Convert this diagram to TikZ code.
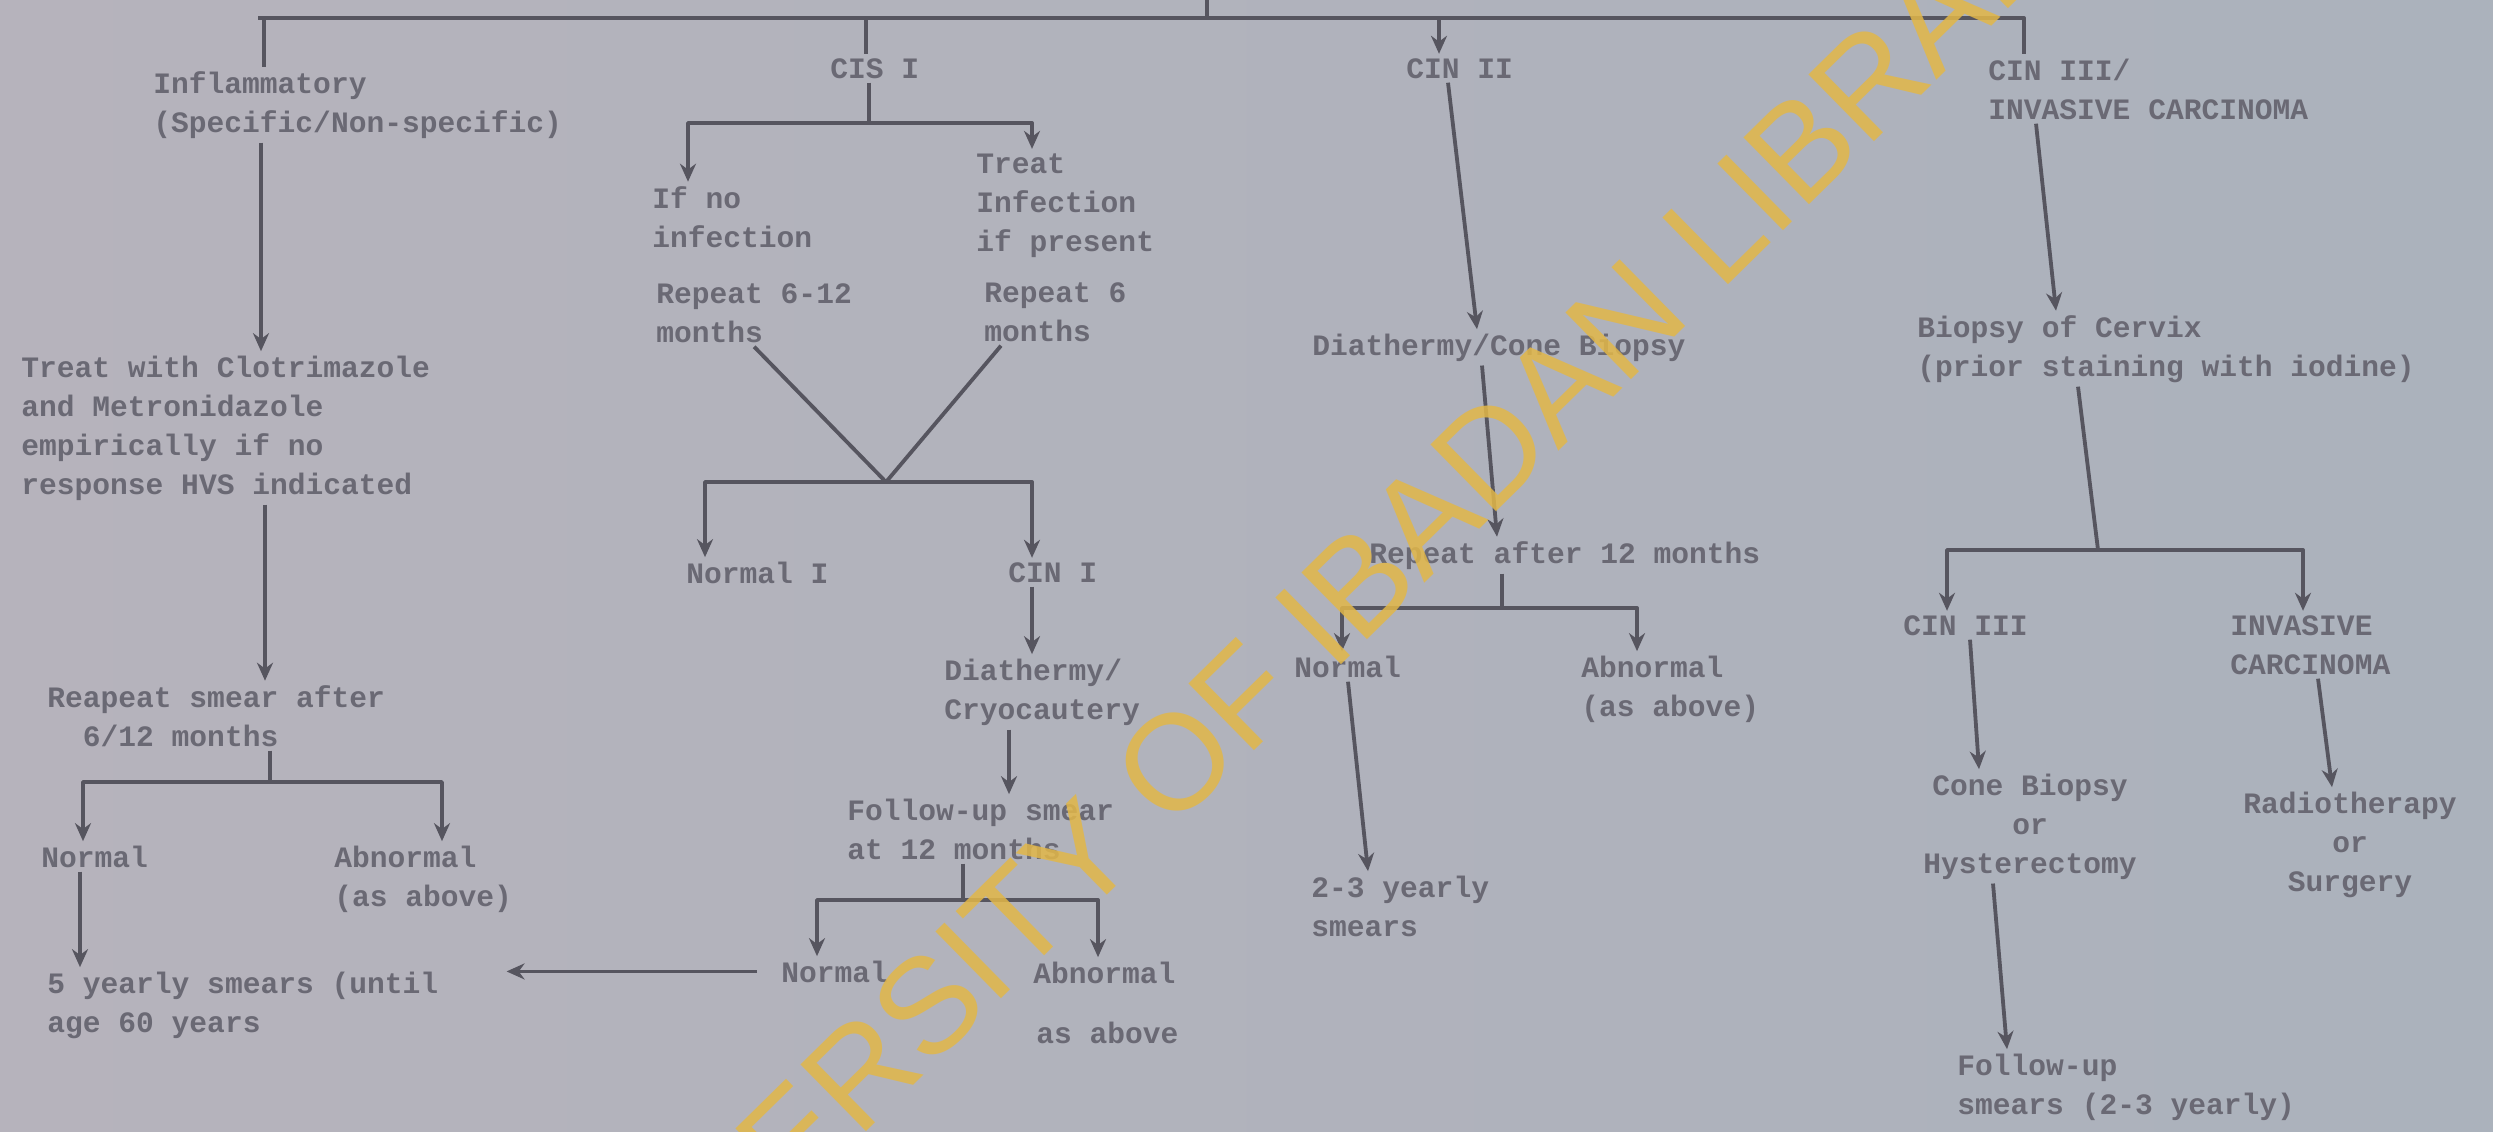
\documentclass[tikz,border=0pt]{standalone}
\usepackage{fontspec}
\setmonofont{Liberation Mono}
\newfontfamily\stampfont{Liberation Sans}
\definecolor{paperleft}{RGB}{182,179,188}
\definecolor{paperright}{RGB}{171,178,188}
\definecolor{typeink}{RGB}{106,105,116}
\definecolor{penink}{RGB}{86,85,95}
\definecolor{stampyellow}{RGB}{226,183,72}
\usepackage{tikz}
\usetikzlibrary{arrows.meta}

\begin{document}
\begin{tikzpicture}[x=0.5pt, y=-0.5pt, line join=round,
  txt/.style={anchor=base west, inner sep=2pt, align=left, text=typeink,
    font=\ttfamily\bfseries\fontsize{14.8}{19.5}\selectfont},
  ctxt/.style={txt, anchor=base, align=center},
  bar/.style={draw=penink, line width=1.9pt},
  arr/.style={bar, -{Stealth[length=9pt, width=8pt]}}]
\useasboundingbox (0,0) rectangle (2493,1131);
\clip (0,0) rectangle (2493,1131);
\fill[left color=paperleft, right color=paperright] (0,0) rectangle (2493,1131);

% first row (base = last line)
\node[txt] (infl) at (149,132) {Inflammatory\\(Specific/Non-specific)};
\node[txt] (cisone) at (826,78) {CIS I};
\node[txt] (cintwo) at (1402,78) {CIN II};
\node[txt] (cinthreetop) at (1984,119) {CIN III/\\INVASIVE CARCINOMA};

% inflammatory column
\node[txt] (clotri) at (17,494) {Treat with Clotrimazole\\and Metronidazole\\empirically if no\\response HVS indicated};
\node[txt] (smearone) at (43,746) {Reapeat smear after\\~~6/12 months};
\node[txt] (normone) at (37,867) {Normal};
\node[txt] (abnone) at (330,906) {Abnormal\\(as above)};
\node[txt] (fiveyr) at (43,1032) {5 yearly smears (until\\age 60 years};

% CIS I column
\node[txt] (ifno) at (648,247) {If no\\infection};
\node[txt] (repone) at (652,342) {Repeat 6-12\\months};
\node[txt] (treatinf) at (972,251) {Treat\\Infection\\if present};
\node[txt] (reptwo) at (980,341) {Repeat 6\\months};
\node[txt] (normI) at (682,583) {Normal I};
\node[txt] (cinone) at (1004,582) {CIN I};
\node[txt] (diacryo) at (940,719) {Diathermy/\\Cryocautery};
\node[txt] (followone) at (843,859) {Follow-up smear\\at 12 months};
\node[txt] (normthree) at (777,982) {Normal};
\node[txt] (abnthree) at (1029,983) {Abnormal};
\node[txt] (asabove) at (1032,1043) {as above};

% CIN II column
\node[txt] (diacone) at (1308,355) {Diathermy/Cone Biopsy};
\node[txt] (reptwelve) at (1365,563) {Repeat after 12 months};
\node[txt] (normtwo) at (1290,677) {Normal};
\node[txt] (abntwo) at (1577,716) {Abnormal\\(as above)};
\node[txt] (twothree) at (1307,936) {2-3 yearly\\smears};

% CIN III column
\node[txt] (biopsy) at (1913,376) {Biopsy of Cervix\\(prior staining with iodine)};
\node[txt] (cinthree) at (1899,635) {CIN III};
\node[txt] (invasive) at (2226,674) {INVASIVE\\CARCINOMA};
\node[ctxt] (cone) at (2030,873) {Cone Biopsy\\or\\Hysterectomy};
\node[ctxt] (radio) at (2350,891) {Radiotherapy\\or\\Surgery};
\node[txt] (followtwo) at (1953,1114) {Follow-up\\smears (2-3 yearly)};

% top bar
\coordinate (barL) at (258,18);
\coordinate (barR) at (2024,18);
\coordinate (trunk) at (1207,0);
\draw[bar] (barL) -- (barR) -- (cinthreetop.north -| barR);
\draw[bar] (trunk) -- (trunk |- barL);
\draw[bar] (264,18) -- (infl.north -| 264,0);
\draw[bar] (866,18) -- (cisone.north -| 866,0);
\draw[arr] (1439,18) -- (cintwo.north -| 1439,0);

% inflammatory
\draw[arr] (infl.south -| 261,0) -- (clotri.north -| 261,0);
\draw[arr] (clotri.south -| 265,0) -- (smearone.north -| 265,0);
\coordinate (lj) at (270,782);
\draw[bar] (smearone.south -| lj) -- (lj);
\draw[arr] (lj) -| (normone.north -| 83,0);
\draw[arr] (lj) -| (abnone.north -| 442,0);
\draw[arr] (normone.south -| 80,0) -- (fiveyr.north -| 80,0);

% CIS I
\coordinate (cj) at (869,123);
\draw[bar] (cisone.south -| cj) -- (cj);
\draw[arr] (cj) -| (ifno.north -| 688,0);
\draw[arr] (cj) -| (treatinf.north -| 1032,0);
\coordinate (vj) at (886,482);
\draw[bar] (repone.south) -- (vj) -- (reptwo.south -| 1001,0);
\draw[arr] (vj) -| (normI.north -| 705,0);
\draw[arr] (vj) -| (cinone.north -| 1032,0);
\draw[arr] (cinone.south -| 1032,0) -- (diacryo.north -| 1032,0);
\draw[arr] (diacryo.south -| 1009,0) -- (followone.north -| 1009,0);
\coordinate (fj) at (963,900);
\draw[bar] (followone.south -| fj) -- (fj);
\draw[arr] (fj) -| (normthree.north -| 817,0);
\draw[arr] (fj) -| (abnthree.north -| 1098,0);
\draw[arr, shorten <=10pt, shorten >=32pt] (normthree.west) -- (normthree.west -| fiveyr.east);

% CIN II
\draw[arr] (cintwo.south -| 1448,0) -- (diacone.north -| 1477,0);
\draw[arr] (diacone.south -| 1482,0) -- (reptwelve.north -| 1497,0);
\coordinate (rj) at (1502,608);
\draw[bar] (reptwelve.south -| rj) -- (rj);
\draw[arr] (rj) -| (normtwo.north -| 1342,0);
\draw[arr] (rj) -| (abntwo.north -| 1637,0);
\draw[arr] (normtwo.south -| 1348,0) -- (twothree.north -| 1368,0);

% CIN III / invasive
\draw[arr] (cinthreetop.south -| 2036,0) -- (biopsy.north -| 2056,0);
\coordinate (bj) at (2098,550);
\draw[bar] (biopsy.south -| 2078,0) -- (bj);
\draw[arr] (bj) -| (cinthree.north -| 1947,0);
\draw[arr] (bj) -| (invasive.north -| 2303,0);
\draw[arr] (cinthree.south -| 1970,0) -- (cone.north -| 1979,0);
\draw[arr] (cone.south -| 1993,0) -- (followtwo.north -| 2007,0);
\draw[arr] (invasive.south -| 2318,0) -- (radio.north -| 2332,0);

% library stamp
\node[rotate=44.5, text=stampyellow, opacity=0.85,
  font=\stampfont\fontsize{68}{68}\selectfont] (stamp) at (1315,625) {UNIVERSITY OF IBADAN LIBRARY};
\end{tikzpicture}
\end{document}
